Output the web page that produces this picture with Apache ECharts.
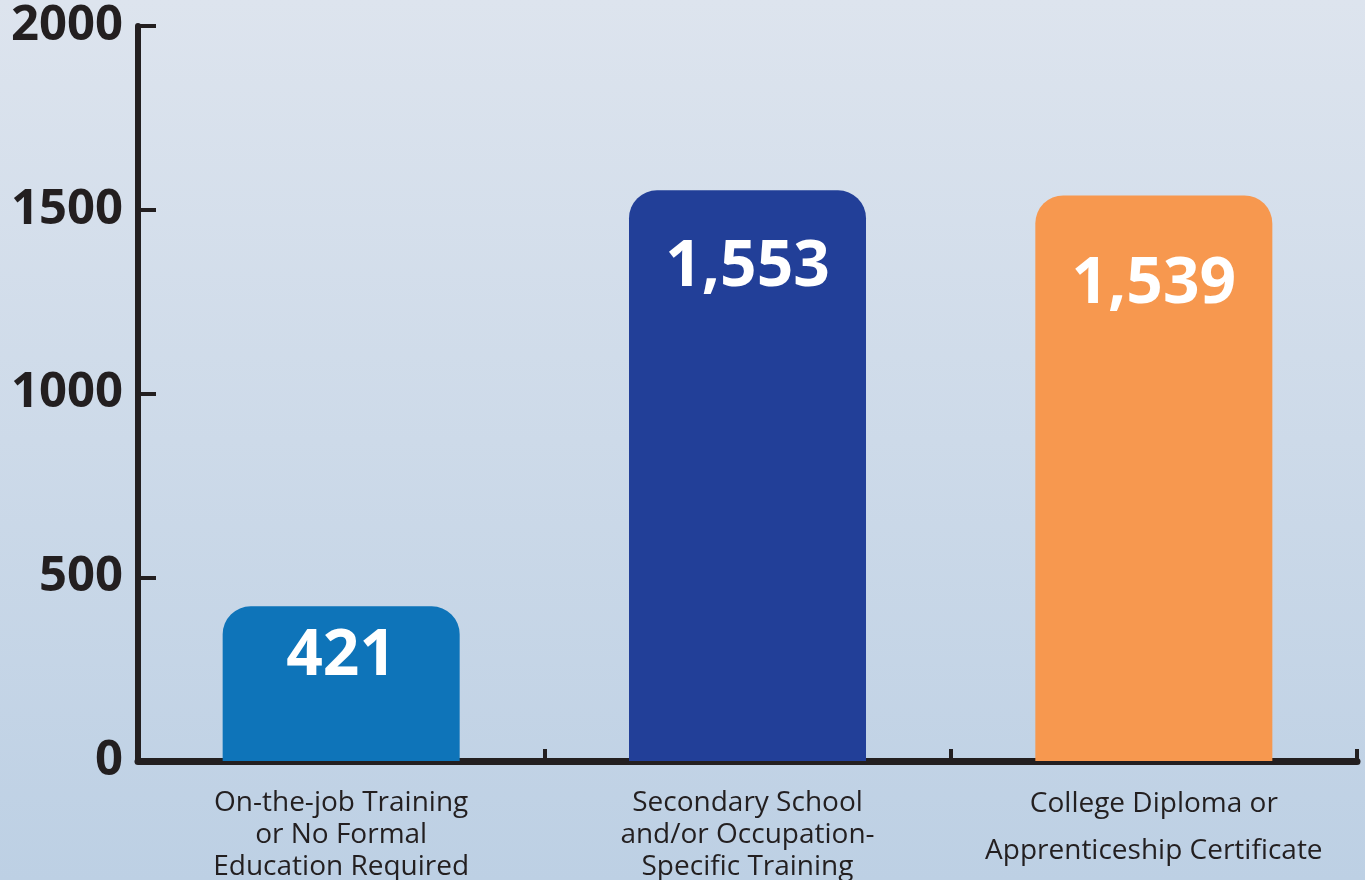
<!DOCTYPE html>
<html>
<head>
<meta charset="utf-8">
<script src="https://cdn.jsdelivr.net/npm/echarts@6/dist/echarts.min.js"></script>
<style>
  html, body { margin: 0; padding: 0; }
  #main { width: 1365px; height: 880px; }
</style>
</head>
<body>
<div id="main"></div>
<script>
// data
var categories = [
  'On-the-job Training\nor No Formal\nEducation Required',
  'Secondary School\nand/or Occupation-\nSpecific Training',
  'College Diploma or\nApprenticeship Certificate'
];
var values = [421, 1553, 1539];
var barColors = ['#0e74b9', '#223f98', '#f7984f'];

// label offset from bar top, per bar
var labelGaps = [18, 45, 57];
var catLineHeights = [32, 32, 47];
var catPadTop = [6, 6, 0];

var myChart = echarts.init(document.getElementById('main'));

var inkColor = '#231f20';

var seriesData = values.map(function (v, i) {
  return {
    value: v,
    itemStyle: { color: barColors[i] },
    label: { distance: labelGaps[i] }
  };
});

var xData = categories.map(function (c, i) {
  return {
    value: c,
    textStyle: { lineHeight: catLineHeights[i], padding: [catPadTop[i], 0, 0, 0] }
  };
});

myChart.setOption({
  backgroundColor: {
    type: 'linear', x: 0, y: 0, x2: 0, y2: 1,
    colorStops: [
      { offset: 0, color: '#dde4ee' },
      { offset: 1, color: '#bdd0e4' }
    ]
  },
  animation: false,
  grid: { left: 138, right: 8, top: 26, bottom: 119, containLabel: false, outerBoundsMode: 'none' },
  xAxis: {
    type: 'category',
    data: xData,
    axisLine: { lineStyle: { color: inkColor, width: 7 } },
    axisTick: { show: true, interval: 0, inside: true, length: 12, lineStyle: { color: inkColor, width: 4 } },
    axisLabel: {
      interval: 0,
      color: inkColor,
      fontFamily: 'Open Sans',
      fontSize: 28,
      lineHeight: 32,
      margin: 20
    }
  },
  yAxis: {
    type: 'value',
    min: 0,
    max: 2000,
    interval: 500,
    splitLine: { show: false },
    axisLine: { show: true, lineStyle: { color: inkColor, width: 6 } },
    axisTick: { show: true, inside: true, length: 18, lineStyle: { color: inkColor, width: 4 } },
    axisLabel: {
      color: inkColor,
      fontFamily: 'Open Sans',
      fontWeight: 'bold',
      fontSize: 49,
      margin: 15,
      padding: [10, 0, 0, 0],
      formatter: function (v) { return String(v); }
    }
  },
  series: [
    {
      type: 'bar',
      barWidth: 237,
      data: seriesData,
      itemStyle: { borderRadius: [28, 28, 0, 0] },
      label: {
        show: true,
        position: 'insideTop',
        color: '#ffffff',
        fontFamily: 'Open Sans',
        fontWeight: 'bold',
        fontSize: 64,
        formatter: function (p) { return p.value.toLocaleString('en-US'); }
      }
    }
  ]
});
</script>
</body>
</html>
